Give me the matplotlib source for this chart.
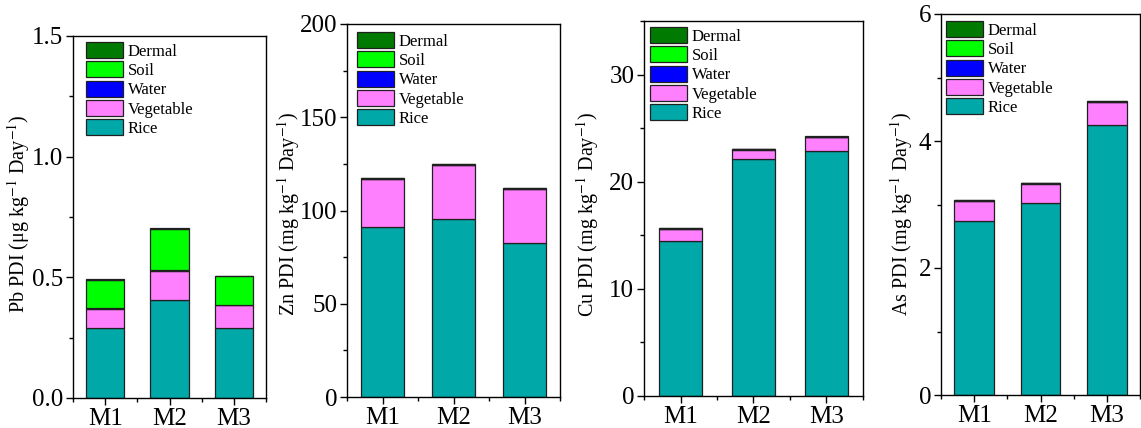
import matplotlib
matplotlib.use('Agg')
import matplotlib.pyplot as plt
from matplotlib.ticker import MultipleLocator
import numpy as np

plt.rcParams['font.family'] = ['Liberation Serif', 'DejaVu Serif']
plt.rcParams['mathtext.fontset'] = 'stix'

# ===== DANE =====
sites = ["M1", "M2", "M3"]
sources = ["Rice", "Vegetable", "Water", "Soil", "Dermal"]
colors = ["#00A8A8", "#FF80FF", "#0000FF", "#00FF00", "#007A00"]

pb_rice = [0.292, 0.408, 0.292]
pb_veg = [0.078, 0.120, 0.092]
pb_water = [0.001, 0.001, 0.001]
pb_soil = [0.119, 0.171, 0.119]
pb_dermal = [0.002, 0.003, 0.001]

zn_rice = [91.1, 95.4, 82.5]
zn_veg = [25.8, 29.0, 29.0]
zn_water = [0.2, 0.2, 0.2]
zn_soil = [0.2, 0.2, 0.2]
zn_dermal = [0.3, 0.4, 0.3]

cu_rice = [14.47, 22.10, 22.90]
cu_veg = [1.12, 0.90, 1.26]
cu_water = [0.03, 0.02, 0.02]
cu_soil = [0.03, 0.02, 0.02]
cu_dermal = [0.05, 0.04, 0.04]

as_rice = [2.74, 3.03, 4.25]
as_veg = [0.315, 0.30, 0.36]
as_water = [0.005, 0.005, 0.008]
as_soil = [0.005, 0.004, 0.007]
as_dermal = [0.006, 0.006, 0.010]

# box = (lewo, góra, prawo, dół) w pikselach, leg = przesunięcie legendy w pikselach
panels = [
    dict(data=[pb_rice, pb_veg, pb_water, pb_soil, pb_dermal],
         ylabel=r'Pb PDI (μg kg$^{-1}$ Day$^{-1}$)', ylim=1.5, major=0.5, minor=0.25,
         fmt='{:.1f}', box=(73, 36, 266, 398), labx=19, leg=(13, 6)),
    dict(data=[zn_rice, zn_veg, zn_water, zn_soil, zn_dermal],
         ylabel=r'Zn PDI (mg kg$^{-1}$ Day$^{-1}$)', ylim=200, major=50, minor=25,
         fmt='{:.0f}', box=(347, 24, 560, 397), labx=289, leg=(10, 8)),
    dict(data=[cu_rice, cu_veg, cu_water, cu_soil, cu_dermal],
         ylabel=r'Cu PDI (mg kg$^{-1}$ Day$^{-1}$)', ylim=35, major=10, minor=5,
         fmt='{:.0f}', box=(644, 21, 863, 396), labx=588, leg=(6, 6)),
    dict(data=[as_rice, as_veg, as_water, as_soil, as_dermal],
         ylabel=r'As PDI (mg kg$^{-1}$ Day$^{-1}$)', ylim=6, major=2, minor=1,
         fmt='{:.0f}', box=(941, 14, 1140, 395), labx=902, leg=(5, 7)),
]

W, H = 1141, 428
fig = plt.figure(figsize=(W / 100, H / 100), dpi=100)

x = np.arange(1, len(sites) + 1)
for p in panels:
    x0, y0, x1, y1 = p['box']
    ax = fig.add_axes([x0 / W, 1 - y1 / H, (x1 - x0) / W, (y1 - y0) / H])
    bottom = np.zeros(len(sites))
    handles = []
    for vals, name, c in zip(p['data'], sources, colors):
        b = ax.bar(x, vals, 0.6, bottom=bottom, color=c, edgecolor='#202020',
                   linewidth=0.9, label=name)
        bottom += np.array(vals)
        handles.append(b)

    ax.set_xlim(0.5, 3.5)
    ax.set_ylim(0, p['ylim'])
    ax.set_xticks(x)
    ax.set_xticklabels(sites)
    ax.xaxis.set_minor_locator(MultipleLocator(0.5))
    ax.yaxis.set_minor_locator(MultipleLocator(p['minor']))
    ticks = np.arange(0, p['ylim'] + 1e-9, p['major'])
    ax.set_yticks(ticks)
    ax.set_yticklabels([p['fmt'].format(t) for t in ticks])
    ax.tick_params(which='major', direction='out', length=5, width=1, labelsize=18, pad=2)
    ax.tick_params(which='minor', direction='out', length=3, width=1)
    for s in ax.spines.values():
        s.set_linewidth(1)

    ax.set_ylabel(p['ylabel'], fontsize=14.5)
    ax.yaxis.set_label_coords(p['labx'] / W, 0.5, transform=fig.transFigure)
    ax.yaxis.label.set_verticalalignment('center')

    lx, ly = p['leg']
    ax.legend(handles[::-1], sources[::-1], loc='upper left',
              bbox_to_anchor=((x0 + lx) / W, 1 - (y0 + ly) / H),
              bbox_transform=fig.transFigure, frameon=False, fontsize=12,
              handlelength=2.2, handleheight=1.1, labelspacing=0.1,
              handletextpad=0.3, borderpad=0, borderaxespad=0)

fig.savefig('out.png', dpi=100)
